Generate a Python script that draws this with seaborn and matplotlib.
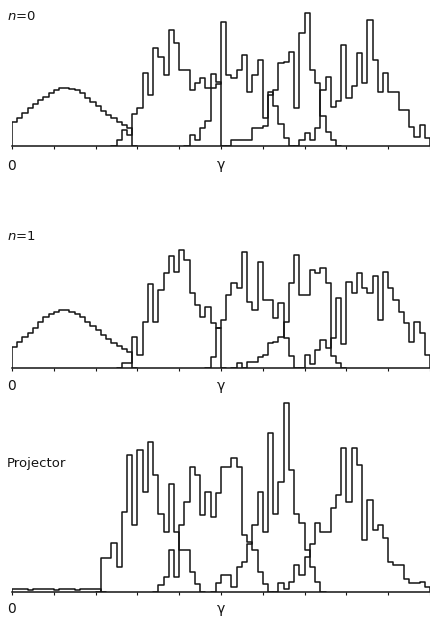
import matplotlib
matplotlib.use("Agg")
import matplotlib.pyplot as plt
import numpy as np
import pandas as pd
import seaborn as sns

sns.set_style("white")
plt.rcParams["font.family"] = ["DejaVu Sans"]

BIN = 0.125  # width of one histogram bin, in gamma units (axis runs 0..10)
INK = "#141414"

# ---- n = 0 : start of first bin and bin heights for each histogram
n0_a_start = 0.0
n0_a = [24, 28, 33, 38, 42, 46, 49, 53, 56, 58, 58, 57, 56, 53, 48, 44, 40, 35, 31, 28, 24, 21, 18]
n0_b_start = 2.5
n0_b = [6, 16, 11, 32, 38, 73, 51, 98, 89, 71, 116, 103, 76, 76, 56, 63, 68, 58, 72, 64]
n0_c_start = 4.25
n0_c = [11, 6, 18, 25, 58, 62, 124, 71, 68, 76, 91, 54, 71, 86, 28, 54, 40, 22, 8]
n0_d_start = 5.25
n0_d = [6, 6, 6, 6, 18, 18, 20, 51, 56, 83, 84, 94, 38, 113, 133, 76, 63, 30, 14, 6]
n0_e_start = 6.875
n0_e = [6, 13, 6, 18, 56, 69, 39, 45, 101, 48, 60, 93, 63, 126, 86, 54, 73, 54, 54, 36,
        36, 19, 9, 21, 8]

# ---- n = 1
n1_a_start = 0.0
n1_a = [21, 26, 31, 35, 40, 46, 51, 54, 56, 58, 58, 56, 54, 51, 46, 42, 38, 33, 29, 25, 22, 19, 16]
n1_b_start = 2.625
n1_b = [5, 5, 31, 13, 46, 84, 46, 78, 95, 112, 96, 118, 108, 75, 63, 51, 61, 45, 40]
n1_c_start = 4.75
n1_c = [11, 40, 48, 73, 85, 80, 116, 66, 58, 106, 68, 68, 50, 65, 30, 12]
n1_d_start = 5.375
n1_d = [5, 0, 6, 6, 11, 13, 25, 26, 31, 46, 85, 113, 73, 73, 98, 95, 100, 85, 12, 5]
n1_e_start = 7.0
n1_e = [13, 4, 18, 28, 20, 30, 70, 24, 86, 75, 95, 80, 75, 92, 48, 96, 80, 68, 56, 45,
        26, 46, 35, 13]

# ---- Projector
pr_a_start = 0.0
pr_a = [3, 3, 3, 2, 3, 3, 3, 3, 2, 3, 3, 3, 2, 3, 3, 3, 3]
pr_b_start = 2.125
pr_b = [34, 34, 49, 25, 80, 137, 67, 142, 100, 150, 117, 78, 60, 108, 60, 42, 42, 20, 8]
pr_c_start = 3.5
pr_c = [7, 15, 42, 15, 67, 90, 125, 117, 77, 100, 75, 99, 125, 125, 134, 125, 57, 50, 42, 20, 8]
pr_d_start = 4.875
pr_d = [9, 17, 17, 5, 25, 30, 48, 67, 100, 60, 159, 78, 110, 189, 122, 78, 69, 42, 25, 10]
pr_e_start = 6.375
pr_e = [9, 3, 10, 27, 17, 35, 48, 69, 60, 60, 84, 97, 144, 90, 144, 127, 52, 92, 62, 67,
        54, 30, 27, 27, 13, 9, 9, 10, 5]

tick_labels = ["0", "", "", "", "", "γ", "", "", "", "", ""]
panel_names = ["$n$=0", "$n$=1", "Projector"]


def draw_hist(ax, start, heights):
    # pad with empty bins so the outline rises from / drops to the baseline
    h = np.r_[0, heights, 0].astype(float)
    lo = start - BIN
    hi = lo + BIN * len(h)
    df = pd.DataFrame({"gamma": lo + BIN * (np.arange(len(h)) + 0.5), "count": h})
    sns.histplot(data=df, x="gamma", weights="count", bins=len(h), binrange=(lo, hi),
                 element="step", fill=False, color=INK, linewidth=1.1, ax=ax)


W, H = 430, 619
fig = plt.figure(figsize=(W / 100, H / 100), dpi=100)

# (baseline px from top, plot height px, label pad)
layout = [(146, 140, 7.0), (368, 140, 6.0), (592, 195, 5.5)]
data = [
    [(n0_a_start, n0_a), (n0_b_start, n0_b), (n0_c_start, n0_c), (n0_d_start, n0_d), (n0_e_start, n0_e)],
    [(n1_a_start, n1_a), (n1_b_start, n1_b), (n1_c_start, n1_c), (n1_d_start, n1_d), (n1_e_start, n1_e)],
    [(pr_a_start, pr_a), (pr_b_start, pr_b), (pr_c_start, pr_c), (pr_d_start, pr_d), (pr_e_start, pr_e)],
]
name_y = [16, 237, 464]

for (base, height, pad), series, name, ny in zip(layout, data, panel_names, name_y):
    ax = fig.add_axes([12 / W, (H - base) / H, 418 / W, height / H])
    for start, heights in series:
        draw_hist(ax, start, heights)
    ax.set_xlim(0, 10)
    ax.set_ylim(0, height)
    ax.set_xlabel("")
    ax.set_ylabel("")
    ax.set_yticks([])
    ax.set_xticks(range(11))
    ax.set_xticklabels(tick_labels)
    ax.tick_params(axis="x", direction="out", length=2, width=0.8, pad=pad,
                   labelsize=10, colors=INK, bottom=True)
    sns.despine(ax=ax, left=True)
    ax.spines["bottom"].set_linewidth(1.1)
    ax.spines["bottom"].set_color(INK)
    ax.patch.set_alpha(0)
    fig.text(7 / W, 1 - ny / H, name, fontsize=9.5, color=INK, va="center", ha="left")

fig.savefig("out.png", dpi=100)
